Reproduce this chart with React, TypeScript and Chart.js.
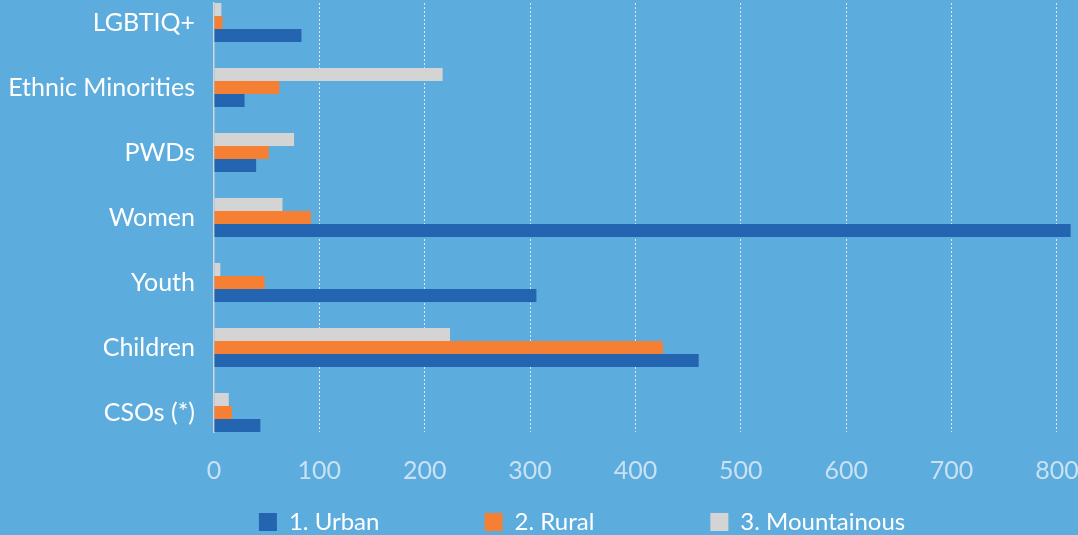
import React, { useEffect, useRef } from 'react';
import { Chart, registerables } from 'chart.js';

Chart.register(...registerables);

const categories = ['LGBTIQ+', 'Ethnic Minorities', 'PWDs', 'Women', 'Youth', 'Children', 'CSOs (*)'];
const urban = [83, 29, 40, 813, 306, 460, 44];
const rural = [8, 62, 52, 92, 48, 426, 17];
const mountainous = [7, 217, 76, 65, 6, 224, 14];
const seriesLabels = ['1. Urban', '2. Rural', '3. Mountainous'];
const seriesColors = ['#2365B1', '#F58033', '#D4D4D4'];
const xTicks = [0, 100, 200, 300, 400, 500, 600, 700, 800];

const FONT = 'Lato';
const LEGEND_SIZE = 24;
const LEGEND_ITEM = 227;
const LEGEND_PAD = 10;
const LEGEND_START = 255;
const CANVAS_W = 1078;

function toPoints(values: number[]) {
  return values.map((v, i) => ({ x: v, y: categories.length - 1 - i }));
}

function padText(ctx: CanvasRenderingContext2D, text: string, target: number) {
  let t = text;
  while (ctx.measureText(t + ' ').width <= target) t += ' ';
  while (ctx.measureText(t + '\u200A').width <= target) t += '\u200A';
  return t;
}

export default function App() {
  const ref = useRef<HTMLCanvasElement>(null);

  useEffect(() => {
    const canvas = ref.current!;
    const chart = new Chart(canvas, {
      type: 'bar',
      data: {
        datasets: [
          { label: seriesLabels[2], data: toPoints(mountainous), backgroundColor: seriesColors[2], borderWidth: 0 },
          { label: seriesLabels[1], data: toPoints(rural), backgroundColor: seriesColors[1], borderWidth: 0 },
          { label: seriesLabels[0], data: toPoints(urban), backgroundColor: seriesColors[0], borderWidth: 0 },
        ],
      },
      options: {
        animation: false,
        responsive: false,
        indexAxis: 'y',
        categoryPercentage: 0.6,
        barPercentage: 1,
        layout: { padding: { top: 3, left: 0, right: 0, bottom: -9 } },
        scales: {
          x: {
            type: 'linear',
            position: 'bottom',
            bounds: 'data',
            offset: false,
            min: 0,
            max: 820,
            afterBuildTicks: (s: any) => {
              s.ticks = xTicks.map((v) => ({ value: v }));
            },
            afterFit: (s: any) => {
              s.height = 68;
              s.paddingLeft = 0;
              s.paddingRight = 0;
            },
            grid: {
              color: (c: any) => (c.tick && c.tick.value === 0 ? 'rgba(0,0,0,0)' : '#DCE6EC'),
              lineWidth: 1,
              drawTicks: false,
            },
            border: { display: false, dash: [2, 2] },
            ticks: { padding: 24, color: '#C8E1F3', font: { family: FONT, size: 25 } },
          },
          y: {
            type: 'linear',
            bounds: 'data',
            offset: false,
            min: -0.3,
            max: 6.3,
            afterBuildTicks: (s: any) => {
              s.ticks = categories.map((_, i) => ({ value: i }));
            },
            afterFit: (s: any) => {
              s.width = 214;
              s.paddingTop = 0;
              s.paddingBottom = 0;
            },
            grid: { display: false, drawTicks: false },
            border: { display: true, color: '#D6D6D6', width: 1.5 },
            ticks: {
              padding: 19,
              color: '#FFFFFF',
              font: { family: FONT, size: 25 },
              callback: (v: any) => categories[categories.length - 1 - Number(v)],
            },
          },
        },
        plugins: {
          tooltip: { enabled: false },
          legend: {
            position: 'bottom',
            align: 'end',
            reverse: true,
            labels: {
              boxWidth: 18,
              boxHeight: 18,
              padding: LEGEND_PAD,
              color: '#FFFFFF',
              font: { family: FONT, size: LEGEND_SIZE },
              generateLabels: (ch: any) => {
                const items = Chart.defaults.plugins.legend.labels.generateLabels(ch);
                const ctx = ch.ctx as CanvasRenderingContext2D;
                ctx.save();
                ctx.font = `${LEGEND_SIZE}px ${FONT}`;
                const base = LEGEND_ITEM - LEGEND_PAD - 18 - LEGEND_SIZE / 2;
                const lastTotal = CANVAS_W - LEGEND_START - 2 * LEGEND_ITEM;
                const lastTarget = lastTotal - LEGEND_PAD - 18 - LEGEND_SIZE / 2;
                items.forEach((it: any) => {
                  const target = it.text === seriesLabels[2] ? lastTarget : base;
                  it.text = padText(ctx, it.text, target);
                });
                ctx.restore();
                return items;
              },
            },
          },
        },
      },
    } as any);
    return () => chart.destroy();
  }, []);

  return (
    <div style={{ position: 'absolute', left: 0, top: 0, width: 1078, height: 535, background: '#5CACDE', overflow: 'hidden' }}>
      <canvas ref={ref} width={1078} height={535} style={{ display: 'block', width: 1078, height: 535 }} />
    </div>
  );
}
